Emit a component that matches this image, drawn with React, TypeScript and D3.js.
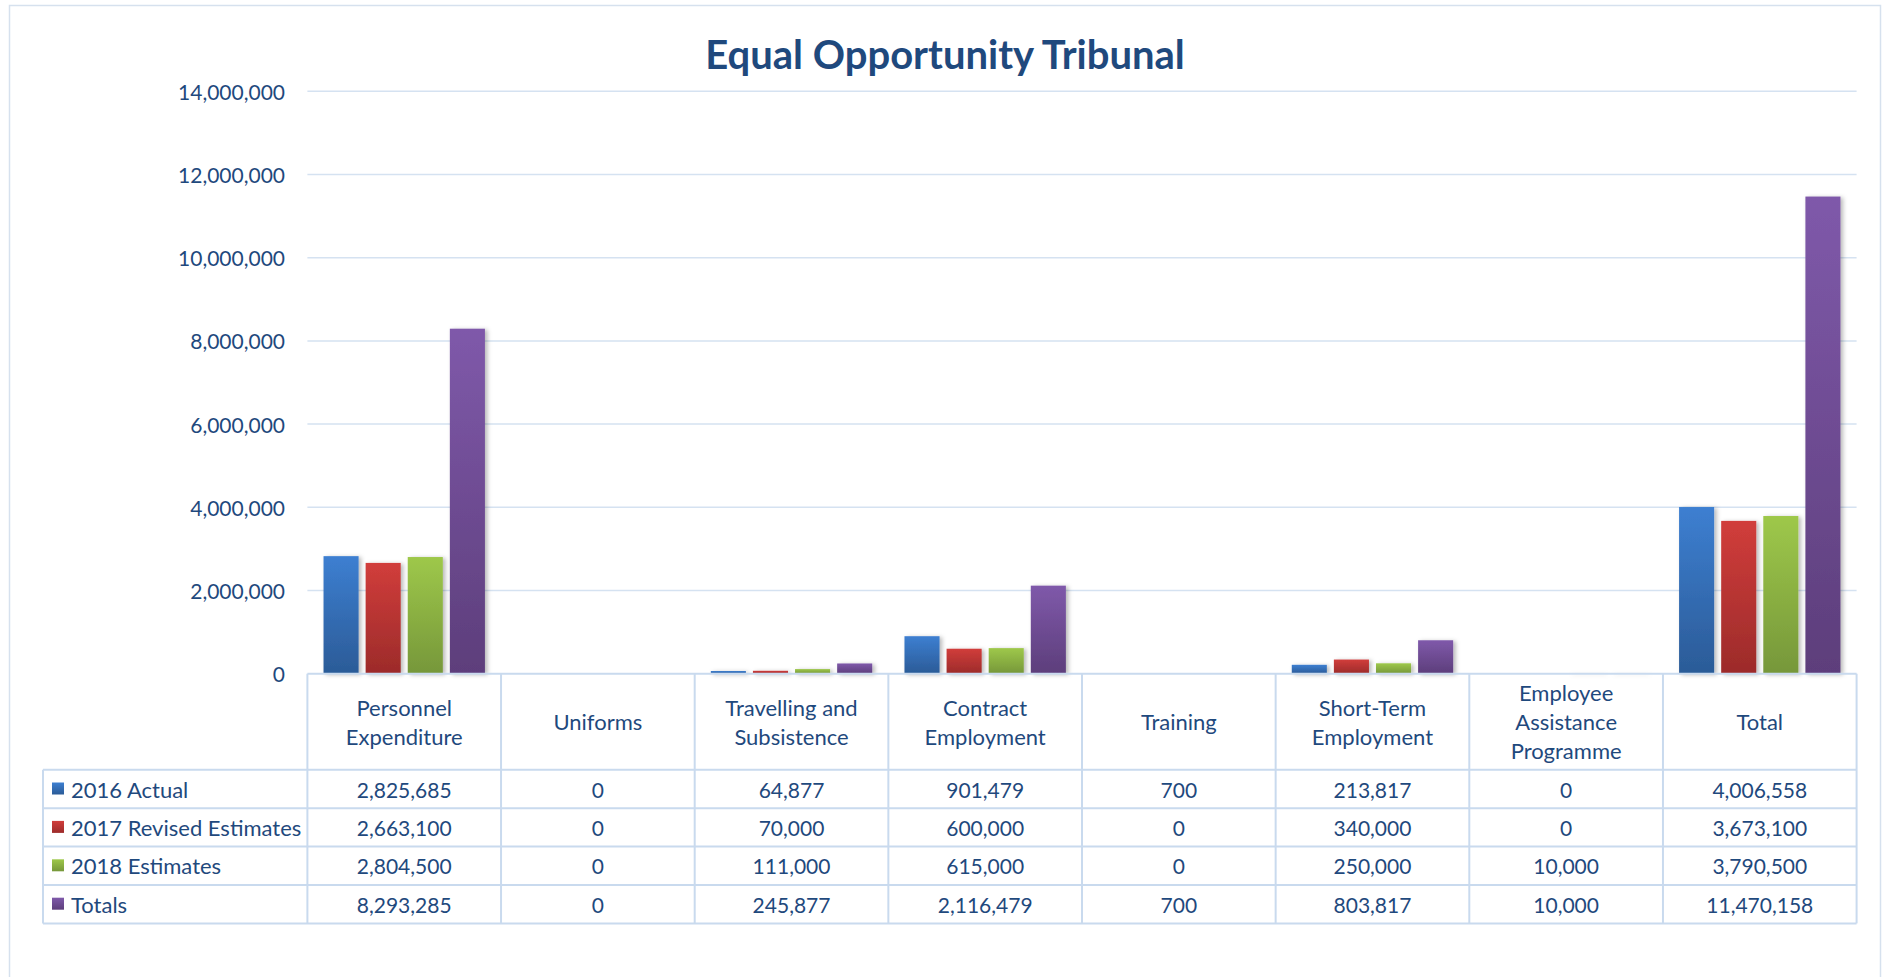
import React from "react";
import * as d3 from "d3";

const categories = [
  "Personnel Expenditure",
  "Uniforms",
  "Travelling and Subsistence",
  "Contract Employment",
  "Training",
  "Short-Term Employment",
  "Employee Assistance Programme",
  "Total",
];
const categoryLines = [
  ["Personnel", "Expenditure"],
  ["Uniforms"],
  ["Travelling and", "Subsistence"],
  ["Contract", "Employment"],
  ["Training"],
  ["Short-Term", "Employment"],
  ["Employee", "Assistance", "Programme"],
  ["Total"],
];
const seriesNames = ["2016 Actual", "2017 Revised Estimates", "2018 Estimates", "Totals"];
const actual2016 = [2825685, 0, 64877, 901479, 700, 213817, 0, 4006558];
const revised2017 = [2663100, 0, 70000, 600000, 0, 340000, 0, 3673100];
const estimates2018 = [2804500, 0, 111000, 615000, 0, 250000, 10000, 3790500];
const totals = [8293285, 0, 245877, 2116479, 700, 803817, 10000, 11470158];
const seriesValues = [actual2016, revised2017, estimates2018, totals];
const yTicks = [0, 2000000, 4000000, 6000000, 8000000, 10000000, 12000000, 14000000];

const gradTop = ["#3D7FD1", "#D13D3B", "#9EC84A", "#7F59AA"];
const gradBottom = ["#2B5B97", "#9C2B2A", "#76973A", "#5D3E7B"];

const W = 1883;
const H = 977;
const plotLeft = 307.4;
const plotRight = 1856.6;
const yTop = 91.3;
const yZero = 673.7;
const rowH = 38.4;
const headerBottom = 769.8;
const legendLeft = 43;
const textColor = "#1F497D";
const gridColor = "#D5E2F1";
const font = "Lato, 'Open Sans', sans-serif";

export default function App() {
  const x0 = d3.scaleBand<number>().domain(d3.range(categories.length)).range([plotLeft, plotRight]).paddingInner(0).paddingOuter(0);
  const x1 = d3.scaleBand<number>().domain(d3.range(seriesNames.length)).range([0, x0.bandwidth()]).paddingInner(0.167).paddingOuter(0.383);
  const y = d3.scaleLinear().domain([0, 14000000]).range([yZero, yTop]);
  const fmt = d3.format(",");

  const colEdges = d3.range(categories.length + 1).map((i) => plotLeft + i * x0.step());
  const rowEdges = d3.range(seriesNames.length + 1).map((i) => headerBottom + i * rowH);

  return (
    <svg width={W} height={H} style={{ position: "absolute", left: 0, top: 0, background: "#fff" }} fontFamily={font}>
      <defs>
        {seriesNames.map((_, i) => (
          <linearGradient key={i} id={`g${i}`} x1="0" y1="0" x2="0" y2="1">
            <stop offset="0" stopColor={gradTop[i]} />
            <stop offset="1" stopColor={gradBottom[i]} />
          </linearGradient>
        ))}
        <filter id="shadow" x="-20%" y="-5%" width="150%" height="110%">
          <feDropShadow dx="2.5" dy="1" stdDeviation="2" floodColor="#000" floodOpacity="0.28" />
        </filter>
      </defs>
      <rect x={9.5} y={5.5} width={1871} height={H} fill="#fff" stroke="#D6E1EE" strokeWidth={1.5} />
      <text x={945} y={54} textAnchor="middle" dominantBaseline="central" fontSize={40} fontWeight={700} fill={textColor}>
        Equal Opportunity Tribunal
      </text>
      {yTicks.map((t) => (
        <g key={t}>
          {t > 0 && <line x1={plotLeft} x2={plotRight} y1={y(t)} y2={y(t)} stroke={gridColor} strokeWidth={1.5} />}
          <text x={285} y={y(t)} textAnchor="end" dominantBaseline="central" fontSize={21} fill={textColor}>
            {fmt(t)}
          </text>
        </g>
      ))}
      {seriesValues.map((vals, s) => (
        <g key={s} filter="url(#shadow)">
          {vals.map((v, c) => (
            <rect
              key={c}
              x={(x0(c) as number) + (x1(s) as number)}
              y={y(v)}
              width={x1.bandwidth()}
              height={yZero - y(v)}
              fill={`url(#g${s})`}
            />
          ))}
        </g>
      ))}
      <g stroke="#C9DAEE" strokeWidth={2} fill="none">
        <line x1={plotLeft} x2={plotRight} y1={yZero} y2={yZero} />
        {rowEdges.map((ry, i) => (
          <line key={"r" + i} x1={legendLeft} x2={plotRight} y1={ry} y2={ry} />
        ))}
        {colEdges.map((cx, i) => (
          <line key={"c" + i} x1={cx} x2={cx} y1={yZero} y2={rowEdges[rowEdges.length - 1]} />
        ))}
        <line x1={legendLeft} x2={legendLeft} y1={headerBottom} y2={rowEdges[rowEdges.length - 1]} />
      </g>
      {categoryLines.map((lines, c) => {
        const cx = (x0(c) as number) + x0.bandwidth() / 2;
        const cy = (yZero + headerBottom) / 2;
        const lh = 29;
        return (
          <text key={c} textAnchor="middle" fontSize={22} fill={textColor}>
            {lines.map((ln, k) => (
              <tspan key={k} x={cx} y={cy + (k - (lines.length - 1) / 2) * lh} dominantBaseline="central">
                {ln}
              </tspan>
            ))}
          </text>
        );
      })}
      {seriesNames.map((name, s) => {
        const cy = rowEdges[s] + rowH / 2;
        return (
          <g key={name}>
            <rect x={52} y={cy - 6.5} width={12} height={12} fill={`url(#g${s})`} />
            <text x={71} y={cy} dominantBaseline="central" fontSize={22} fill={textColor}>
              {name}
            </text>
            {seriesValues[s].map((v, c) => (
              <text
                key={c}
                x={(x0(c) as number) + x0.bandwidth() / 2}
                y={cy}
                textAnchor="middle"
                dominantBaseline="central"
                fontSize={21}
                fill={textColor}
              >
                {fmt(v)}
              </text>
            ))}
          </g>
        );
      })}
    </svg>
  );
}
